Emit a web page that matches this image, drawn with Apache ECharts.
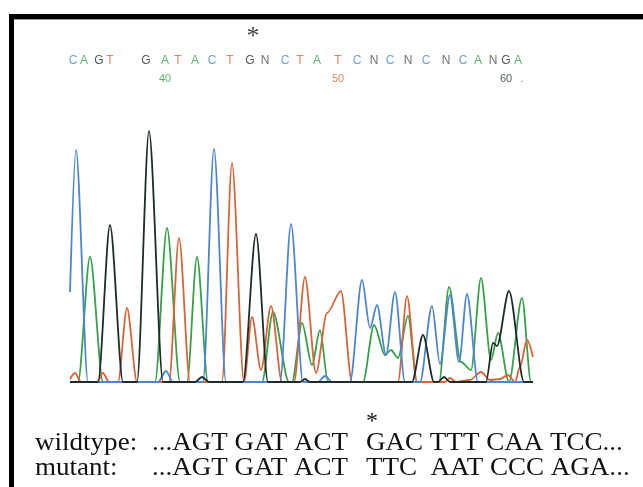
<!DOCTYPE html>
<html><head><meta charset="utf-8">
<script src="https://cdn.jsdelivr.net/npm/echarts@6/dist/echarts.min.js"></script>
<style>html,body{margin:0;padding:0;background:#fff}#c{width:643px;height:487px}</style>
</head><body><div id="c"></div><script>
// trace key points [scan position, signal]
const traceC = [[70,90],[76,232],[88,0],[158,0],[166,11],[173,0],[203,0],[214,233],[226,0],[280,0],[291,158],[303,0],[318,0],[325,6],[332,0],[350,0],[362,102],[370,54],[377,77],[386,27],[395,90],[405,0],[420,0],[432,76],[440,18],[450,87],[459,20],[467,88],[478,0],[533,0]];
const traceA = [[70,0],[78,0],[90,125],[103,0],[155,0],[167,154],[180,0],[187,0],[197,125],[208,0],[262,0],[273,70],[289,0],[292,0],[302,59],[312,17],[320,52],[328,0],[363,0],[374,57],[385,27],[391,32],[398,24],[408,66],[417,0],[439,0],[449,95],[461,20],[471,12],[481,104],[491,22],[498,49],[509,0],[522,84],[531,0],[533,0]];
const traceG = [[70,0],[98,0],[110,157],[123,0],[137,0],[149,251],[163,0],[195,0],[202,5],[209,0],[243,0],[256,148],[268,0],[300,0],[305,3],[310,0],[412,0],[423,47],[434,0],[438,0],[444,5],[450,0],[486,0],[493,39],[497,36],[509,91],[524,0],[533,0]];
const traceT = [[70,3],[75,9],[81,0],[97,0],[103,9],[109,0],[118,0],[127,74],[137,0],[169,0],[179,144],[190,0],[222,0],[232,219],[244,0],[252,65],[261,12],[271,76],[282,0],[294,0],[305,105],[316,9],[327,69],[341,91],[352,0],[398,0],[407,86],[417,0],[445,0],[450,4],[456,0],[470,2],[481,10],[490,2],[500,3],[508,7],[515,0],[520,15],[527,42],[533,25]];

const baseCalls = ['C','A','G','T','G','A','T','A','C','T','G','N','C','T','A','T','C','N','C','N','C','N','C','A','N','G','A'];
const baseX = [73,84,99,110,146,165,178,195,212,230,250,265,285,300,317,338,357,374,390,408,426,446,463,478,493,506,518];
const posLabels = ['40','50','60','.'];
const posLabelX = [165,338,506,522];
const mutationX = 253;

const wildtype = ['wildtype:', '...AGT GAT ACT', 'GAC TTT CAA TCC...'];
const mutant = ['mutant:', '...AGT GAT ACT', 'TTC  AAT CCC AGA...'];

const COL = {C:'#4d86d0', A:'#37a04a', G:'#1f2a2a', T:'#d9643a', N:'#4a4f4f'};
const chart = echarts.init(document.getElementById('c'), null, {renderer:'canvas'});
const BASE_Y = 382, TOP_Y = 20;
const yv = py => BASE_Y - py;

function trace(name, data, color){
  return {type:'line', name, data, symbol:'none', smooth:0.3, smoothMonotone:'x',
    lineStyle:{color, width:1.8}, clip:true, z:2, silent:true};
}
const letterData = baseCalls.map((b,i)=>({value:[baseX[i], yv(61)],
  label:{formatter:b, color:COL[b]}}));
const numCols = ['#37a04a','#d9643a','#2b3535','#666'];
const numData = posLabels.map((t,i)=>({value:[posLabelX[i], yv(79)], label:{formatter:t, color:numCols[i]}}));

function txt(x, y, s){
  return {type:'text', x, y, scaleX:1.04, style:{text:s, font:'26px "Liberation Serif"', fill:'#111', verticalAlign:'middle'}};
}

chart.setOption({
  animation:false,
  grid:{left:70, right:643-535, top:TOP_Y, bottom:487-BASE_Y},
  xAxis:{type:'value', min:70, max:535, show:false},
  yAxis:{type:'value', min:0, max:BASE_Y-TOP_Y, show:false},
  series:[
    trace('A', traceA, COL.A),
    trace('T', traceT, COL.T),
    trace('C', traceC, COL.C),
    trace('G', traceG, COL.G),
    {type:'scatter', data:letterData, symbolSize:1, itemStyle:{color:'transparent'}, clip:false,
      label:{show:true, position:'inside', fontFamily:'Liberation Sans', fontSize:12}},
    {type:'scatter', data:numData, symbolSize:1, itemStyle:{color:'transparent'}, clip:false,
      label:{show:true, position:'inside', fontFamily:'Liberation Sans', fontSize:11}},
    {type:'scatter', data:[[mutationX, yv(37)]], symbolSize:1, itemStyle:{color:'transparent'}, clip:false,
      label:{show:true, position:'inside', formatter:'*', fontFamily:'Liberation Serif', fontSize:26, color:'#111'}}
  ],
  graphic:[
    {type:'rect', shape:{x:9, y:14, width:634, height:5}, style:{fill:'#000'}},
    {type:'rect', shape:{x:14, y:19, width:629, height:1}, style:{fill:'#999'}},
    {type:'rect', shape:{x:9, y:14, width:5, height:473}, style:{fill:'#000'}},
    {type:'text', x:372, y:422, style:{text:'*', font:'24px "Liberation Serif"', fill:'#111', align:'center', verticalAlign:'middle'}},
    txt(35, 443, wildtype[0]), txt(152, 443, wildtype[1]), txt(366, 443, wildtype[2]),
    txt(35, 468, mutant[0]), txt(152, 468, mutant[1]), txt(366, 468, mutant[2])
  ]
});
</script></body></html>
